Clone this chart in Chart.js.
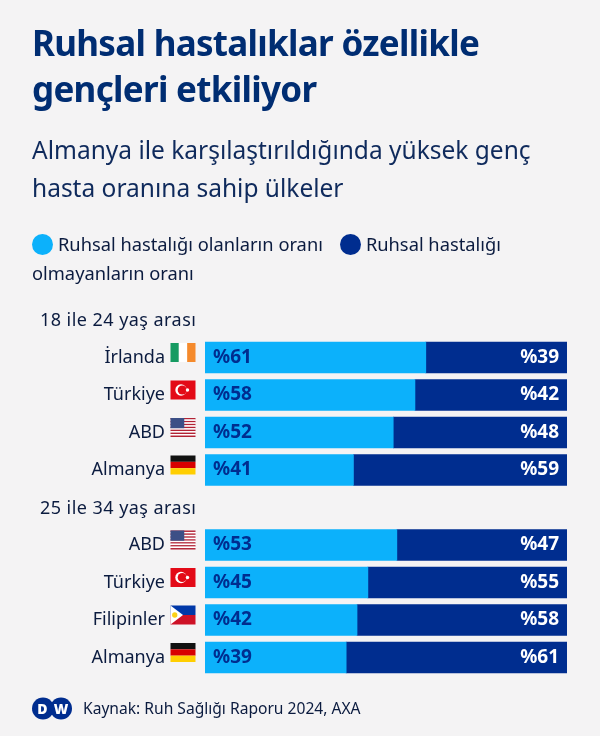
<!DOCTYPE html>
<html lang="tr">
<head>
<meta charset="utf-8">
<script src="https://cdn.jsdelivr.net/npm/chart.js@4"></script>
<style>
  html, body { margin: 0; padding: 0; background: #f4f3f4; }
  #page { position: relative; width: 600px; height: 736px; overflow: hidden; font-family: "Noto Sans", sans-serif; color: #0b1b3f; }
  #page > div, #page > svg { position: absolute; }
  #chart { position: absolute; left: 0; top: 0; }
  .title { left: 32px; top: 20px; font-size: 35px; line-height: 46px; font-weight: 700; color: #002d72; letter-spacing: -0.7px; white-space: nowrap; }
  .subtitle { left: 32px; top: 131px; font-size: 24.5px; line-height: 38px; color: #0f2a5c; white-space: nowrap; }
  .legend { left: 32px; top: 229px; width: 520px; font-size: 18.3px; line-height: 29px; }
  .dot { display: inline-block; width: 21px; height: 21px; border-radius: 50%; vertical-align: -4px; margin-right: 5px; }
  .dot.second { margin-left: 17px; }
  .group { left: 40px; font-size: 18px; line-height: 22px; letter-spacing: 0.45px; white-space: nowrap; }
  .source { left: 83px; top: 697px; font-size: 15.6px; line-height: 22px; white-space: nowrap; }
</style>
</head>
<body>
<div id="page">
  <canvas id="chart" width="600" height="736"></canvas>
  <div class="title">Ruhsal hastalıklar özellikle<br>gençleri etkiliyor</div>
  <div class="subtitle">Almanya ile karşılaştırıldığında yüksek genç<br>hasta oranına sahip ülkeler</div>
  <div class="legend"><span class="dot" style="background:#0cb1fb"></span>Ruhsal hastalığı olanların oranı<span class="dot second" style="background:#002d8f"></span>Ruhsal hastalığı olmayanların oranı</div>
  <div class="group" style="top:308px">18 ile 24 yaş arası</div>
  <div class="group" style="top:496px">25 ile 34 yaş arası</div>
  <svg style="left:32px;top:697px" width="40" height="23" viewBox="0 0 40 23">
    <circle cx="11" cy="11.5" r="11" fill="#002d8f"/>
    <circle cx="29" cy="11.5" r="11" fill="#002d8f"/>
    <text x="10.5" y="16.5" font-family="Noto Sans" font-size="14" font-weight="900" fill="#fff" text-anchor="middle">D</text>
    <text x="29" y="16.5" font-family="Noto Sans" font-size="14" font-weight="900" fill="#fff" text-anchor="middle">W</text>
  </svg>
  <div class="source">Kaynak: Ruh Sağlığı Raporu 2024, AXA</div>
</div>
<script>
// empty category is the gap with the second age group heading
const categories = ['İrlanda', 'Türkiye', 'ABD', 'Almanya', '', 'ABD', 'Türkiye', 'Filipinler', 'Almanya'];
const flags = ['ie', 'tr', 'us', 'de', null, 'us', 'tr', 'ph', 'de'];
const withIllness = [61, 58, 52, 41, null, 53, 45, 42, 39];
const withoutIllness = [39, 42, 48, 59, null, 47, 55, 58, 61];

// flag drawing, x/y is top left corner
function drawFlag(ctx, code, x, y, w, h) {
  ctx.save();
  if (code === 'ie') {
    ctx.fillStyle = '#169b62'; ctx.fillRect(x, y, w / 3, h);
    ctx.fillStyle = '#ffffff'; ctx.fillRect(x + w / 3, y, w / 3, h);
    ctx.fillStyle = '#f58a2c'; ctx.fillRect(x + 2 * w / 3, y, w / 3, h);
  } else if (code === 'de') {
    ctx.fillStyle = '#111111'; ctx.fillRect(x, y, w, h / 3);
    ctx.fillStyle = '#d80000'; ctx.fillRect(x, y + h / 3, w, h / 3);
    ctx.fillStyle = '#ffce00'; ctx.fillRect(x, y + 2 * h / 3, w, h / 3);
  } else if (code === 'tr') {
    ctx.fillStyle = '#e30a17'; ctx.fillRect(x, y, w, h);
    ctx.fillStyle = '#ffffff';
    ctx.beginPath(); ctx.arc(x + w * 0.42, y + h / 2, h * 0.3, 0, 2 * Math.PI); ctx.fill();
    ctx.fillStyle = '#e30a17';
    ctx.beginPath(); ctx.arc(x + w * 0.47, y + h / 2, h * 0.24, 0, 2 * Math.PI); ctx.fill();
    ctx.fillStyle = '#ffffff';
    ctx.beginPath(); ctx.arc(x + w * 0.68, y + h / 2, h * 0.09, 0, 2 * Math.PI); ctx.fill();
  } else if (code === 'us') {
    for (let i = 0; i < 7; i++) {
      ctx.fillStyle = '#b22234';
      ctx.fillRect(x, y + i * 2 * h / 13, w, h / 13);
      ctx.fillStyle = '#ffffff';
      if (i < 6) ctx.fillRect(x, y + (i * 2 + 1) * h / 13, w, h / 13);
    }
    ctx.fillStyle = '#3c4f86'; ctx.fillRect(x, y, w * 0.55, h * 7 / 13);
  } else if (code === 'ph') {
    ctx.fillStyle = '#0038a8'; ctx.fillRect(x, y, w, h / 2);
    ctx.fillStyle = '#ce1126'; ctx.fillRect(x, y + h / 2, w, h / 2);
    ctx.fillStyle = '#ffffff';
    ctx.beginPath(); ctx.moveTo(x, y); ctx.lineTo(x + w * 0.5, y + h / 2); ctx.lineTo(x, y + h); ctx.closePath(); ctx.fill();
    ctx.fillStyle = '#fcd116';
    ctx.beginPath(); ctx.arc(x + w * 0.17, y + h / 2, h * 0.14, 0, 2 * Math.PI); ctx.fill();
  }
  ctx.restore();
}

// percent labels inside the bars and flags next to the country names
const barDecor = {
  id: 'barDecor',
  afterDatasetsDraw(chart) {
    const ctx = chart.ctx;
    ctx.save();
    ctx.font = '700 19px "Noto Sans"';
    ctx.textBaseline = 'middle';
    chart.getDatasetMeta(0).data.forEach((bar, i) => {
      if (withIllness[i] === null) return;
      ctx.textAlign = 'left';
      ctx.fillStyle = '#002d8f';
      ctx.fillText('%' + withIllness[i], chart.chartArea.left + 8, bar.y);
      ctx.textAlign = 'right';
      ctx.fillStyle = '#ffffff';
      ctx.fillText('%' + withoutIllness[i], chart.chartArea.right - 8, bar.y);
      drawFlag(ctx, flags[i], 170.5, bar.y - 14.5, 25, 19);
    });
    ctx.restore();
  }
};

new Chart(document.getElementById('chart'), {
  type: 'bar',
  data: {
    labels: categories,
    datasets: [
      { label: 'Ruhsal hastalığı olanların oranı', data: withIllness, backgroundColor: '#0cb1fb', barThickness: 31 },
      { label: 'Ruhsal hastalığı olmayanların oranı', data: withoutIllness, backgroundColor: '#002d8f', barThickness: 31 }
    ]
  },
  options: {
    indexAxis: 'y',
    responsive: false,
    animation: false,
    layout: { padding: { top: 338.75, bottom: 59.75, right: 33, left: 0 } },
    plugins: { legend: { display: false }, tooltip: { enabled: false } },
    scales: {
      x: { stacked: true, min: 0, max: 100, display: false },
      y: {
        stacked: true,
        grid: { display: false, drawTicks: false },
        border: { display: false },
        afterFit(scale) { scale.width = 205; },
        ticks: { padding: 40, color: '#0b1b3f', font: { family: 'Noto Sans', size: 18 }, autoSkip: false }
      }
    }
  },
  plugins: [barDecor]
});
</script>
</body>
</html>
